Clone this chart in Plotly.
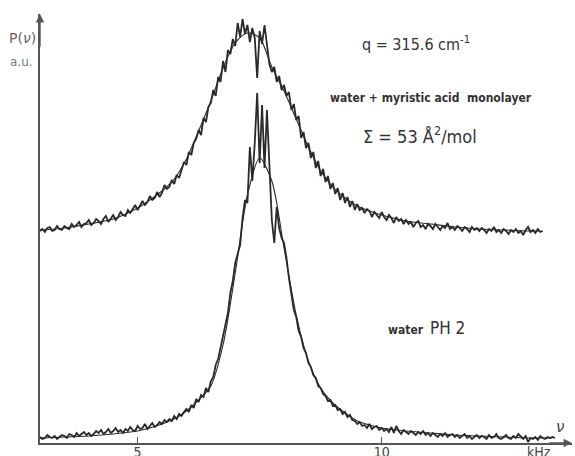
import plotly.graph_objects as go

# ---------------- data ----------------
# frequency grid of the measured spectra starts at 3.0 kHz, step 0.05 kHz
x_start = 3.0
x_step = 0.05

# upper spectrum: water + myristic acid monolayer (a.u., arbitrary offset)
upper_data = [
    212, 214, 211, 215, 216, 212, 213, 217, 214, 213,
    217, 215, 214, 219, 216, 218, 221, 216, 219, 220,
    223, 218, 220, 224, 222, 219, 224, 227, 221, 225,
    228, 223, 226, 231, 228, 227, 233, 230, 234, 238,
    233, 237, 242, 238, 241, 247, 243, 245, 251, 246,
    250, 258, 254, 256, 263, 259, 268, 265, 272, 281,
    278, 291, 288, 300, 304, 313, 308, 325, 321, 336,
    340, 353, 347, 366, 361, 382, 371, 393, 389, 404,
    397, 420, 406, 424, 409, 418, 401, 415, 405, 365,
    412, 399, 418, 396, 379, 371, 376, 361, 367, 353,
    358, 347, 351, 333, 339, 323, 327, 305, 311, 295,
    300, 285, 291, 275, 282, 267, 274, 261, 267, 254,
    260, 249, 255, 243, 250, 240, 246, 236, 242, 233,
    239, 233, 235, 230, 234, 232, 226, 231, 228, 225,
    231, 226, 223, 228, 225, 220, 226, 222, 224, 219,
    223, 219, 221, 216, 220, 222, 216, 218, 214, 219,
    217, 214, 219, 216, 213, 217, 215, 220, 214, 216,
    213, 217, 215, 212, 216, 214, 211, 216, 213, 215,
    212, 215, 213, 210, 214, 212, 216, 211, 213, 210,
    214, 212, 209, 213, 211, 214, 210, 212, 208, 213,
    216, 211, 213, 210, 214, 211, 212,
]

# lower spectrum: water pH 2
lower_data = [
    6, 4, 5, 8, 6, 5, 7, 4, 6, 8,
    7, 5, 9, 8, 6, 10, 7, 9, 11, 8,
    10, 7, 9, 12, 10, 13, 9, 11, 14, 10,
    12, 15, 11, 13, 10, 14, 12, 16, 13, 12,
    17, 14, 15, 19, 14, 17, 20, 16, 18, 21,
    19, 23, 21, 24, 22, 27, 24, 29, 27, 31,
    34, 31, 38, 35, 44, 41, 48, 46, 55, 51,
    62, 66, 78, 84, 96, 105, 118, 130, 150, 162,
    180, 190, 198, 225, 243, 240, 296, 262, 300, 350,
    280, 338, 275, 333, 276, 223, 200, 236, 215, 205,
    200, 185, 165, 150, 133, 126, 112, 106, 95, 90,
    80, 76, 68, 65, 57, 55, 49, 47, 42, 43,
    37, 38, 33, 34, 29, 31, 26, 28, 23, 22,
    19, 21, 17, 18, 15, 19, 14, 16, 17, 13,
    15, 12, 14, 11, 16, 10, 17, 12, 9, 13,
    11, 9, 12, 10, 8, 11, 9, 12, 8, 10,
    7, 10, 8, 6, 9, 7, 10, 6, 8, 9,
    6, 8, 5, 7, 9, 5, 7, 4, 6, 8,
    5, 7, 6, 4, 8, 5, 6, 9, 5, 4,
    6, 8, 5, 4, 7, 5, 9, 6, 4, 7,
    1, 5, 4, 6, 3, 7, 5, 4, 6, 5,
    6, 5,
]

# smooth fitted curves
upper_fit_x = [3.0, 3.5, 4.0, 4.5, 5.0, 5.25, 5.5, 5.75, 6.0, 6.25, 6.5, 6.75, 7.0,
               7.25, 7.5, 7.75, 8.0, 8.25, 8.5, 8.75, 9.0, 9.25, 9.5, 9.75, 10.0,
               10.5, 11.0, 11.5, 12.0, 12.5, 13.0, 13.25]
upper_fit_y = [213, 215, 219, 224, 235, 243, 252, 264, 284, 312, 342, 375, 400,
               410, 405, 376, 352, 324, 296, 272, 256, 245, 237, 232, 228,
               222, 219, 216, 214, 213, 212, 212]

lower_fit_x = [3.0, 3.5, 4.0, 4.5, 5.0, 5.25, 5.5, 5.75, 6.0, 6.25, 6.5, 6.75, 7.0,
               7.25, 7.5, 7.75, 8.0, 8.25, 8.5, 8.75, 9.0, 9.25, 9.5, 9.75, 10.0,
               10.5, 11.0, 11.5, 12.0, 12.5, 13.0, 13.5]
lower_fit_y = [5, 6, 7, 9, 12, 15, 19, 24, 32, 43, 57, 98, 170,
               248, 285, 262, 195, 128, 82, 55, 40, 30, 22, 18, 15,
               12, 10, 8, 7, 6, 5, 5]

tick_vals = [5, 10]
tick_text = ["5", "10"]

# ---------------- figure ----------------
upper_x = [round(x_start + x_step * i, 2) for i in range(len(upper_data))]
lower_x = [round(x_start + x_step * i, 2) for i in range(len(lower_data))]

ink = "#2a2a2a"
axis_c = "#555555"
label_font = "Liberation Sans Narrow, DejaVu Sans Condensed, DejaVu Sans, sans-serif"

fig = go.Figure()
fig.add_trace(go.Scatter(x=upper_x, y=upper_data, mode="lines",
                         line=dict(color=ink, width=1.8), showlegend=False))
fig.add_trace(go.Scatter(x=upper_fit_x, y=upper_fit_y, mode="lines",
                         line=dict(color=ink, width=1.1, shape="spline", smoothing=0.8),
                         showlegend=False))
fig.add_trace(go.Scatter(x=lower_x, y=lower_data, mode="lines",
                         line=dict(color=ink, width=1.8), showlegend=False))
fig.add_trace(go.Scatter(x=lower_fit_x, y=lower_fit_y, mode="lines",
                         line=dict(color=ink, width=1.1, shape="spline", smoothing=0.8),
                         showlegend=False))

annos = [
    dict(x=-0.032, y=0.944, xref="paper", yref="paper", xanchor="center", yanchor="middle",
         text="P(<i>ν</i>)", font=dict(size=14, color="#666666")),
    dict(x=-0.034, y=0.888, xref="paper", yref="paper", xanchor="center", yanchor="middle",
         text="a.u.", font=dict(size=12, color="#777777")),
    dict(x=10.70, y=400, text="q = 315.6 cm<sup>-1</sup>",
         font=dict(size=16, color="#333333", family=label_font)),
    dict(x=11.01, y=345, text="<b>water + myristic acid  monolayer</b>",
         font=dict(size=12, color="#333333", family=label_font)),
    dict(x=10.79, y=308, text="Σ = 53 Å<sup>2</sup>/mol",
         font=dict(size=18, color="#333333", family=label_font)),
    dict(x=10.91, y=115, text="<b>water</b>  <span style='font-size:17px'>PH 2</span>",
         font=dict(size=12, color="#333333", family=label_font)),
    dict(x=13.65, y=16, text="<i>ν</i>", font=dict(size=15, color="#444444")),
    dict(x=13.22, y=0, yshift=1, yanchor="top", text="kHz",
         font=dict(size=14, color="#444444", family=label_font)),
]
for a in annos:
    a.setdefault("xref", "x")
    a.setdefault("yref", "y")
    a.setdefault("showarrow", False)
    fig.add_annotation(**a)

# axis arrowheads
fig.add_annotation(x=3.0, y=429, ax=3.0, ay=395, xref="x", yref="y", axref="x", ayref="y",
                   text="", showarrow=True, arrowhead=2, arrowsize=1.2, arrowwidth=1.4,
                   arrowcolor=axis_c, standoff=0)
fig.add_annotation(x=13.9, y=0, ax=13.4, ay=0, xref="x", yref="y", axref="x", ayref="y",
                   text="", showarrow=True, arrowhead=2, arrowsize=1.2, arrowwidth=1.4,
                   arrowcolor=axis_c, standoff=0)

fig.update_layout(
    width=575, height=456,
    margin=dict(l=40, r=3, t=14, b=13),
    paper_bgcolor="white", plot_bgcolor="white",
    font=dict(family="DejaVu Sans, sans-serif"),
)
fig.update_xaxes(range=[3.0, 13.9], showgrid=False, zeroline=False, automargin=False,
                 showline=True, linecolor=axis_c, linewidth=1.5,
                 tickvals=tick_vals, ticktext=tick_text, ticks="inside", ticklen=6,
                 tickcolor=axis_c, tickwidth=1.3, ticklabelstandoff=-5,
                 tickfont=dict(size=14, color="#444444", family=label_font))
fig.update_yaxes(range=[0, 429], showgrid=False, zeroline=False, automargin=False,
                 showline=True, linecolor=axis_c, linewidth=1.5,
                 showticklabels=False, ticks="")

fig.write_html("out.html")
